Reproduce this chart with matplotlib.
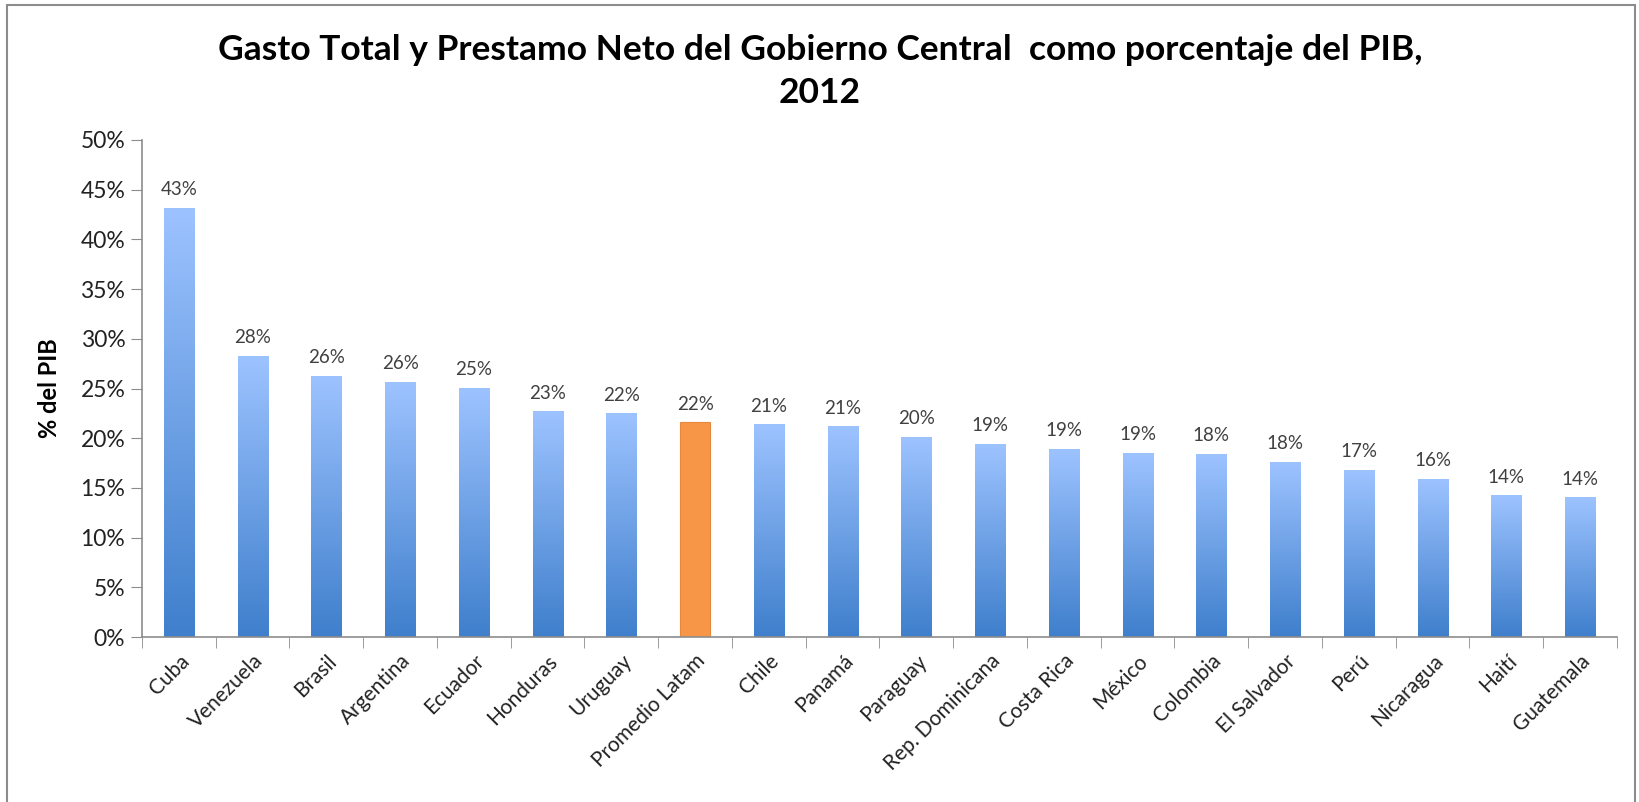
import matplotlib
matplotlib.use("Agg")
import matplotlib.pyplot as plt
import numpy as np
from matplotlib.patches import Rectangle
from matplotlib.colors import LinearSegmentedColormap

plt.rcParams['font.family'] = ['Lato', 'DejaVu Sans']

categories = ["Cuba", "Venezuela", "Brasil", "Argentina", "Ecuador", "Honduras", "Uruguay",
              "Promedio Latam", "Chile", "Panamá", "Paraguay", "Rep. Dominicana", "Costa Rica",
              "México", "Colombia", "El Salvador", "Perú", "Nicaragua", "Haití", "Guatemala"]
values = [43.2, 28.3, 26.3, 25.65, 25.05, 22.7, 22.5, 21.6, 21.4, 21.2, 20.1, 19.4, 18.9,
          18.5, 18.4, 17.6, 16.8, 15.9, 14.25, 14.05]
labels = ["43%", "28%", "26%", "26%", "25%", "23%", "22%", "22%", "21%", "21%", "20%", "19%",
          "19%", "19%", "18%", "18%", "17%", "16%", "14%", "14%"]
highlight = "Promedio Latam"
yticks = [0, 5, 10, 15, 20, 25, 30, 35, 40, 45, 50]

W, H = 1640, 802
fig = plt.figure(figsize=(W / 100, H / 100), dpi=100)
fig.patches.append(Rectangle((7 / W, -0.1), (1635 - 7) / W, 1.1 - 5 / H, transform=fig.transFigure,
                             fill=False, edgecolor="#8c8c8c", linewidth=1.5))

ax = fig.add_axes([142 / W, 1 - 637 / H, (1617 - 142) / W, (637 - 140) / H])
x = np.arange(len(categories))
bars = ax.bar(x, values, width=0.41, color="none", edgecolor="none", zorder=2)

cmap = LinearSegmentedColormap.from_list("g", ["#3F7FCC", "#9DC3FF"])
grad = np.linspace(0, 1, 256).reshape(-1, 1)
for b, cat in zip(bars, categories):
    x0, w, h = b.get_x(), b.get_width(), b.get_height()
    if cat == highlight:
        b.set_facecolor("#F79646")
        b.set_edgecolor("#E8883A")
        b.set_linewidth(0.8)
    else:
        im = ax.imshow(grad, extent=[x0, x0 + w, 0, h], origin="lower", aspect="auto",
                       cmap=cmap, zorder=2)
        im.set_clip_path(b)
        b.set_edgecolor("#A9C8F5")
        b.set_linewidth(0.6)
        b.set_facecolor("none")

for xi, v, lab in zip(x, values, labels):
    ax.annotate(lab, (xi, v), xytext=(0, 7), textcoords="offset points", ha="center",
                va="bottom", fontsize=13.5, color="#404040")

ax.set_xlim(-0.5, len(categories) - 0.5)
ax.set_ylim(0, 50)
ax.set_yticks(yticks)
ax.set_yticklabels([f"{t}%" for t in yticks], fontsize=16.5, color="#222222")
ax.tick_params(axis="y", length=8, color="#8c8c8c", pad=4)
ax.set_xticks(x)
ax.set_xticklabels(categories, rotation=45, ha="right", rotation_mode="anchor", fontsize=15,
                   color="#222222")
ax.tick_params(axis="x", which="major", length=0, pad=10)
ax.set_xticks(np.arange(-0.5, len(categories)), minor=True)
ax.tick_params(axis="x", which="minor", length=8, color="#8c8c8c")
for s in ["top", "right"]:
    ax.spines[s].set_visible(False)
for s in ["left", "bottom"]:
    ax.spines[s].set_color("#8c8c8c")
    ax.spines[s].set_linewidth(1.2)

ax.set_ylabel("% del PIB", fontsize=17, fontweight="bold", labelpad=14)

fig.text(0.5, 1 - 50 / H, "Gasto Total y Prestamo Neto del Gobierno Central  como porcentaje del PIB,",
         ha="center", va="center", fontsize=25.5, fontweight="bold")
fig.text(0.5, 1 - 93 / H, "2012", ha="center", va="center", fontsize=25.5, fontweight="bold")

fig.savefig("out.png", dpi=100)
